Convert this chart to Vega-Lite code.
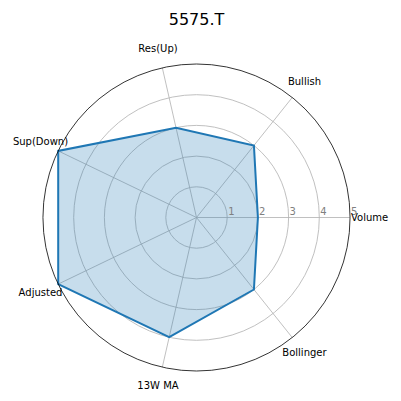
{
  "$schema": "https://vega.github.io/schema/vega-lite/v6.json",
  "width": 307,
  "height": 307,
  "autosize": {"type": "none"},
  "padding": {"left": 43, "top": 64, "right": 51, "bottom": 30},
  "background": "white",
  "title": {
    "text": "5575.T",
    "fontSize": 16,
    "font": "DejaVu Sans",
    "fontWeight": "normal",
    "color": "black",
    "anchor": "middle",
    "frame": "group",
    "baseline": "alphabetic",
    "offset": 3
  },
  "datasets": {
    "scores": [
      {"i": 0, "axis": "Volume", "value": 2},
      {"i": 1, "axis": "Bullish", "value": 3},
      {"i": 2, "axis": "Res(Up)", "value": 3},
      {"i": 3, "axis": "Sup(Down)", "value": 5},
      {"i": 4, "axis": "Adjusted", "value": 5},
      {"i": 5, "axis": "13W MA", "value": 4},
      {"i": 6, "axis": "Bollinger", "value": 3}
    ],
    "rings": [
      {"r": 1, "outer": false},
      {"r": 2, "outer": false},
      {"r": 3, "outer": false},
      {"r": 4, "outer": false},
      {"r": 5, "outer": true}
    ]
  },
  "layer": [
    {
      "data": {"name": "rings"},
      "transform": [{"filter": "!datum.outer"}],
      "mark": {"type": "arc", "theta": 0, "theta2": 6.2832, "filled": false, "stroke": "#b0b0b0", "strokeWidth": 0.8},
      "encoding": {
        "radius": {"field": "r", "type": "quantitative", "stack": null, "scale": {"type": "linear", "domain": [0, 5], "range": [0, 153.5], "zero": true}}
      }
    },
    {
      "data": {"name": "scores"},
      "transform": [
        {"calculate": "datum.i * 2 * PI / 7", "as": "ang"},
        {"calculate": "5 * cos(datum.ang)", "as": "sx"},
        {"calculate": "5 * sin(datum.ang)", "as": "sy"},
        {"calculate": "0", "as": "zero"}
      ],
      "mark": {"type": "rule", "color": "#b0b0b0", "strokeWidth": 0.8},
      "encoding": {
        "x": {"field": "zero", "type": "quantitative", "scale": {"domain": [-5, 5], "nice": false, "zero": false}, "axis": null},
        "y": {"field": "zero", "type": "quantitative", "scale": {"domain": [-5, 5], "nice": false, "zero": false}, "axis": null},
        "x2": {"field": "sx"},
        "y2": {"field": "sy"}
      }
    },
    {
      "data": {"name": "scores"},
      "transform": [
        {"calculate": "datum.i * 2 * PI / 7", "as": "ang"},
        {"calculate": "datum.value * cos(datum.ang)", "as": "px"},
        {"calculate": "datum.value * sin(datum.ang)", "as": "py"}
      ],
      "mark": {"type": "line", "interpolate": "linear-closed", "stroke": "#1f77b4", "strokeWidth": 2, "fill": "#1f77b4", "fillOpacity": 0.25},
      "encoding": {
        "x": {"field": "px", "type": "quantitative", "scale": {"domain": [-5, 5], "nice": false, "zero": false}, "axis": null},
        "y": {"field": "py", "type": "quantitative", "scale": {"domain": [-5, 5], "nice": false, "zero": false}, "axis": null},
        "order": {"field": "i", "type": "quantitative"}
      }
    },
    {
      "data": {"name": "rings"},
      "transform": [{"filter": "datum.outer"}],
      "mark": {"type": "arc", "theta": 0, "theta2": 6.2832, "filled": false, "stroke": "black", "strokeWidth": 0.8},
      "encoding": {
        "radius": {"field": "r", "type": "quantitative", "stack": null, "scale": {"type": "linear", "domain": [0, 5], "range": [0, 153.5], "zero": true}}
      }
    },
    {
      "data": {"name": "rings"},
      "transform": [{"calculate": "0", "as": "zero"}],
      "mark": {"type": "text", "align": "left", "baseline": "alphabetic", "dx": 1, "dy": -3, "fontSize": 10, "font": "DejaVu Sans", "color": "#808080"},
      "encoding": {
        "x": {"field": "r", "type": "quantitative", "scale": {"domain": [-5, 5], "nice": false, "zero": false}, "axis": null},
        "y": {"field": "zero", "type": "quantitative", "scale": {"domain": [-5, 5], "nice": false, "zero": false}, "axis": null},
        "text": {"field": "r", "type": "quantitative"}
      }
    },
    {
      "data": {"name": "scores"},
      "transform": [
        {"calculate": "datum.i * 2 * PI / 7", "as": "ang"},
        {"calculate": "5.64 * cos(datum.ang)", "as": "lx"},
        {"calculate": "5.64 * sin(datum.ang)", "as": "ly"}
      ],
      "mark": {"type": "text", "align": "center", "baseline": "middle", "fontSize": 10, "font": "DejaVu Sans", "color": "black"},
      "encoding": {
        "x": {"field": "lx", "type": "quantitative", "scale": {"domain": [-5, 5], "nice": false, "zero": false}, "axis": null},
        "y": {"field": "ly", "type": "quantitative", "scale": {"domain": [-5, 5], "nice": false, "zero": false}, "axis": null},
        "text": {"field": "axis", "type": "nominal"}
      }
    }
  ],
  "resolve": {"scale": {"x": "shared", "y": "shared"}},
  "config": {
    "view": {"stroke": null}
  }
}
